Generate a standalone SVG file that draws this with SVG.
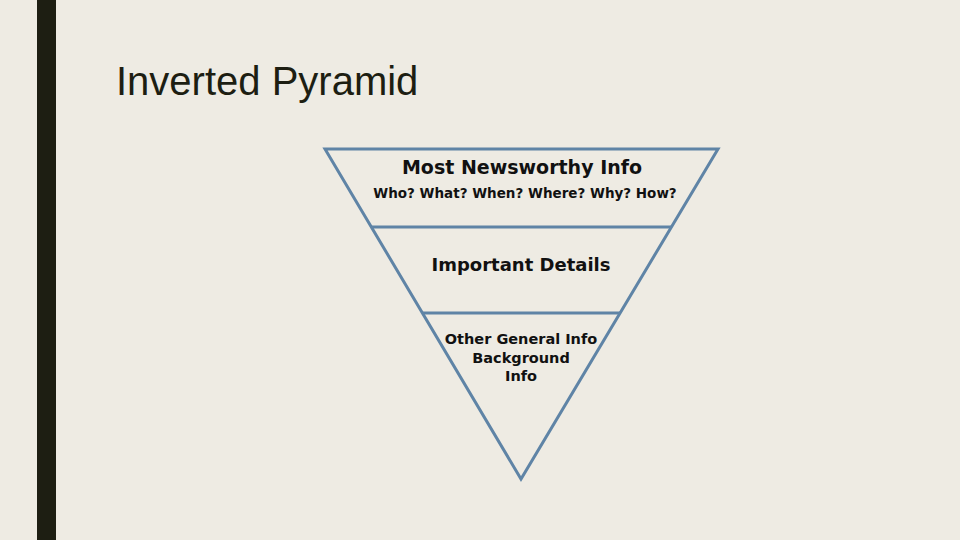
<svg xmlns="http://www.w3.org/2000/svg" width="960" height="540" viewBox="0 0 960 540">
<style>
.e{stroke:#5f84a6;stroke-width:3;fill:none}
.t{font-family:"DejaVu Sans",sans-serif;font-weight:bold;fill:#111;text-anchor:middle}
</style>
<rect width="960" height="540" fill="#eeebe3"/>
<rect x="37" y="0" width="19" height="540" fill="#1d1e12"/>
<text x="116" y="95" font-family="Liberation Sans, sans-serif" font-size="40" fill="#1d1e12">Inverted Pyramid</text>
<g id="connectors">
<polygon class="e" points="325,149 718,149 521,479"/>
<line class="e" x1="371" y1="227" x2="671" y2="227"/>
<line class="e" x1="422" y1="313" x2="620" y2="313"/>
</g>
<g id="top"><text class="t" x="522" y="174" font-size="19">Most Newsworthy Info</text>
<text class="t" x="525" y="198" font-size="13.5">Who? What? When? Where? Why? How?</text></g>
<g id="middle"><text class="t" x="521" y="271" font-size="18">Important Details</text></g>
<g id="bottom"><text class="t" x="521" y="344" font-size="14.5">Other General Info</text>
<text class="t" x="521" y="363" font-size="14.5">Background</text>
<text class="t" x="521" y="381" font-size="14.5">Info</text></g>
</svg>
